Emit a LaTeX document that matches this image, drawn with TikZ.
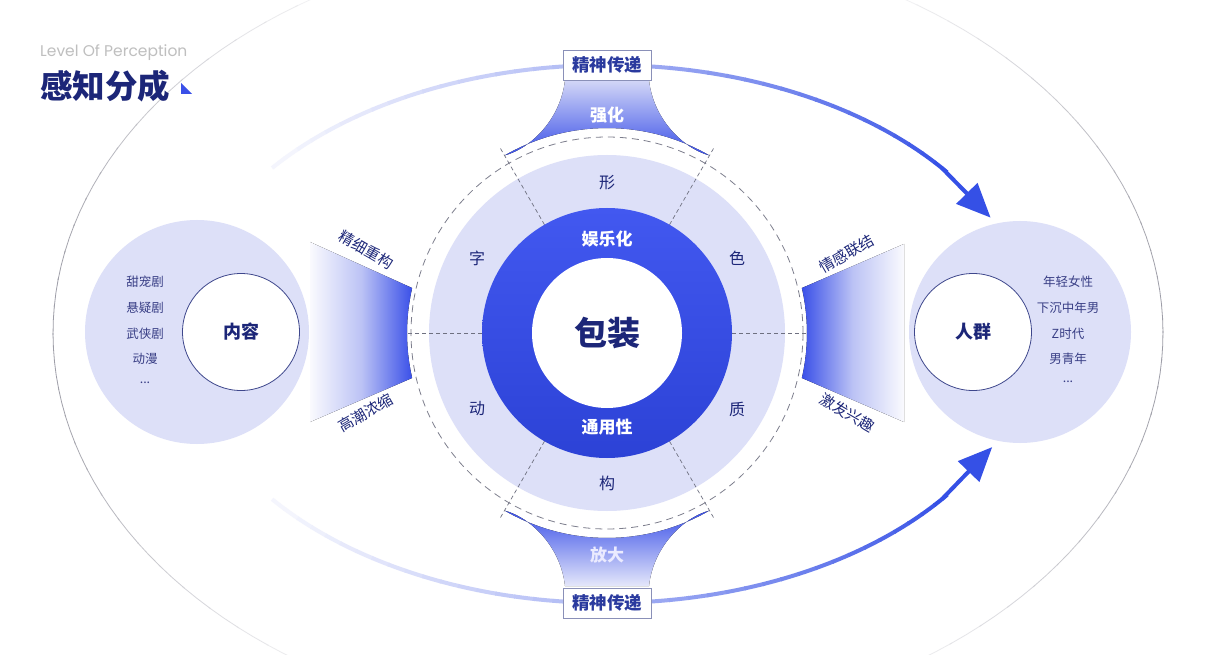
\documentclass[tikz,border=0pt]{standalone}
\usepackage{fontspec}
\newfontfamily\cjk{Noto Sans CJK SC}
\newfontfamily\pop{Poppins}
\usetikzlibrary{arrows.meta}
\definecolor{navy}{HTML}{1C2678}
\definecolor{lav}{HTML}{DDE0F8}
\definecolor{mainblue}{HTML}{3A50E8}
\definecolor{ringtop}{HTML}{4258F0}
\definecolor{ringbot}{HTML}{2C42D6}
\definecolor{arcfade}{HTML}{F4F5FD}
\definecolor{arcblue}{HTML}{3550E6}
\definecolor{boxline}{HTML}{8A90B8}
\definecolor{boxtext}{HTML}{2A3A9E}
\definecolor{listtext}{HTML}{383E85}
\definecolor{dashgray}{HTML}{6E7080}
\definecolor{funfade}{HTML}{FAFAFE}
\definecolor{funmid}{HTML}{BCC3F5}
\definecolor{funtop}{HTML}{D3D7F7}
\definecolor{ellgray}{HTML}{9C9CA6}
\begin{document}
\begin{tikzpicture}[x=1pt,y=-1pt,
  listitem/.style={font=\cjk\fontsize{12.5}{14}\selectfont, text=listtext, inner sep=0pt},
  ringchar/.style={font=\cjk\fontsize{16}{18}\selectfont, text=navy, inner sep=0pt},
  whitebold/.style={font=\cjk\bfseries\fontsize{17}{19}\selectfont, text=white, inner sep=0pt},
  funlabel/.style={font=\cjk\fontsize{15}{17}\selectfont, text=navy, inner sep=0pt},
  hubtext/.style={font=\cjk\bfseries\fontsize{18}{20}\selectfont, text=navy},
  labelbox/.style={draw=boxline, line width=0.8pt, fill=white, minimum width=88pt, minimum height=30pt, inner sep=0pt, font=\cjk\bfseries\fontsize{17.5}{19}\selectfont, text=boxtext},
  bigdisc/.style={circle, fill=lav, inner sep=0pt, minimum size=224pt},
  hubdisc/.style={circle, fill=white, draw=navy!85, line width=0.8pt, inner sep=0pt, minimum size=117pt},
  raddash/.style={draw=dashgray, line width=0.7pt, dash pattern=on 4pt off 3pt},
  arcseg/.style={line width=4pt},
]
\useasboundingbox (0,0) rectangle (1205,655);
\clip (0,0) rectangle (1205,655);
\fill[white] (0,0) rectangle (1205,655);

% outer thin ellipse, fading toward top and bottom
\foreach \a in {0,4,...,356} {
  \pgfmathtruncatemacro\p{100*pow(abs(cos(\a+2)),3)}
  \pgfmathsetmacro\b{\a+4.3}
  \draw[line width=0.8pt, draw=ellgray!\p!white] plot[domain=\a:\b, samples=3] ({608+555*cos(\x)},{333-395*sin(\x)});
}

% title
\node[anchor=west, font=\pop\fontsize{15.5}{17}\selectfont, text=gray!50, inner sep=0pt] (subtitle) at (40,53) {Level Of Perception};
\node[anchor=west, font=\cjk\bfseries\fontsize{32.5}{35}\selectfont, text=navy, inner sep=0pt] (title) at (40,86) {感知分成};
\fill[mainblue] (181,83) -- (181,94) -- (192,94) -- cycle;

% top arc with gradient
\foreach \i in {0,...,39} {
  \pgfmathsetmacro\ta{142-\i*2.625}
  \pgfmathsetmacro\tb{\ta-2.8}
  \pgfmathtruncatemacro\p{100*pow(\i/39,1.3)}
  \draw[arcseg, draw=arcblue!\p!arcfade] plot[domain=\ta:\tb, samples=4] ({607+425*cos(\x)},{333-268*sin(\x)});
}
\coordinate (topArrowStart) at ({607+425*cos(38)},{333-268*sin(38)});
\coordinate (topArrowTip) at ({607+425*cos(25.5)},{333-268*sin(25.5)});
\draw[arcseg, arcblue, -{Triangle[length=34pt,width=29pt]}] (topArrowStart) -- (topArrowTip);

% bottom arc with gradient
\foreach \i in {0,...,39} {
  \pgfmathsetmacro\ta{218+\i*2.625}
  \pgfmathsetmacro\tb{\ta+2.8}
  \pgfmathtruncatemacro\p{100*pow(\i/39,1.3)}
  \draw[arcseg, draw=arcblue!\p!arcfade] plot[domain=\ta:\tb, samples=4] ({607+425*cos(\x)},{333-270*sin(\x)});
}
\coordinate (botArrowStart) at ({607+425*cos(322)},{333-270*sin(322)});
\coordinate (botArrowTip) at ({607+425*cos(335)},{333-270*sin(335)});
\draw[arcseg, arcblue, -{Triangle[length=34pt,width=29pt]}] (botArrowStart) -- (botArrowTip);

% top funnel
\fill[top color=funtop, bottom color=mainblue]
  (565,80) .. controls (561,118) and (532,148) .. ({607+205*cos(120)},{333-205*sin(120)})
  -- plot[domain=120:60, samples=24] ({607+205*cos(\x)},{333-205*sin(\x)})
  .. controls (682,148) and (653,118) .. (649,80) -- cycle;
% bottom funnel
\fill[top color=mainblue, bottom color=funtop!60!white]
  (565,586) .. controls (561,548) and (532,518) .. ({607+205*cos(240)},{333-205*sin(240)})
  -- plot[domain=240:300, samples=24] ({607+205*cos(\x)},{333-205*sin(\x)})
  .. controls (682,518) and (653,548) .. (649,586) -- cycle;
% left funnel
\fill[left color=funfade, right color=mainblue, middle color=funmid]
  (310,242) -- plot[domain=167:193, samples=12] ({607+200*cos(\x)},{333-200*sin(\x)}) -- (310,422) -- cycle;
% right funnel
\fill[left color=mainblue, right color=funfade, middle color=funmid]
  (904,244) -- plot[domain=13:-13, samples=12] ({607+200*cos(\x)},{333-200*sin(\x)}) -- (904,422) -- cycle;

% funnel labels
\node[whitebold] (qianghua) at (607,115) {强化};
\node[whitebold, text=white!92!blue] (fangda) at (607,555) {放大};
\node[funlabel, rotate=-30] (jingxi) at (366,250) {精细重构};
\node[funlabel, rotate=30] (gaochao) at (366,413) {高潮浓缩};
\node[funlabel, rotate=30] (qinggan) at (847,254) {情感联结};
\node[funlabel, rotate=-30] (jifa) at (847,413) {激发兴趣};

% side discs
\node[bigdisc] (leftbig) at (197,332) {};
\node[bigdisc, minimum size=222pt] (rightbig) at (1020,332) {};
\node[hubdisc] (content) at (241,332) {};
\node[hubtext] at (content) {内容};
\node[hubdisc] (people) at (973,332) {};
\node[hubtext] at (people) {人群};

\node[listitem] (l1) at (145,282) {甜宠剧};
\node[listitem] (l2) at (145,308) {悬疑剧};
\node[listitem] (l3) at (145,334) {武侠剧};
\node[listitem] (l4) at (145,359) {动漫};
\node[listitem] (l5) at (145,383) {...};
\node[listitem] (r1) at (1068,282) {年轻女性};
\node[listitem] (r2) at (1068,308) {下沉中年男};
\node[listitem] (r3) at (1068,334) {Z时代};
\node[listitem] (r4) at (1068,359) {男青年};
\node[listitem] (r5) at (1068,382) {...};

% central lavender ring
\node[circle, fill=lav, inner sep=0pt, minimum size=356pt] (ring) at (607,333) {};
% radial dashes
\foreach \a in {60,120,240,300} {
  \draw[raddash] ({607+125*cos(\a)},{333-125*sin(\a)}) -- ({607+214*cos(\a)},{333-214*sin(\a)});
}
\foreach \a in {0,180} {
  \draw[raddash] ({607+125*cos(\a)},{333-125*sin(\a)}) -- ({607+200*cos(\a)},{333-200*sin(\a)});
}
\draw[draw=dashgray!90, line width=0.8pt, dash pattern=on 7pt off 5pt] (607,333) circle[radius=196pt];

% blue ring and white core
\node[circle, top color=ringtop, bottom color=ringbot, inner sep=0pt, minimum size=250pt] (bluering) at (607,333) {};
\node[circle, fill=white, inner sep=0pt, minimum size=150pt] (core) at (607,333) {};
\node[font=\cjk\bfseries\fontsize{33}{36}\selectfont, text=navy] (baozhuang) at (607,333) {包装};
\node[whitebold] (yule) at (607,239) {娱乐化};
\node[whitebold] (tongyong) at (607,427) {通用性};

% ring characters
\node[ringchar] (xing) at (607,183) {形};
\node[ringchar] (zi) at (477,258) {字};
\node[ringchar] (se) at (737,258) {色};
\node[ringchar] (dong) at (477,409) {动};
\node[ringchar] (zhi) at (737,409) {质};
\node[ringchar] (gou) at (607,483) {构};

% label boxes
\node[labelbox] (topbox) at (607,65) {精神传递};
\node[labelbox] (botbox) at (607,603) {精神传递};
\end{tikzpicture}
\end{document}
